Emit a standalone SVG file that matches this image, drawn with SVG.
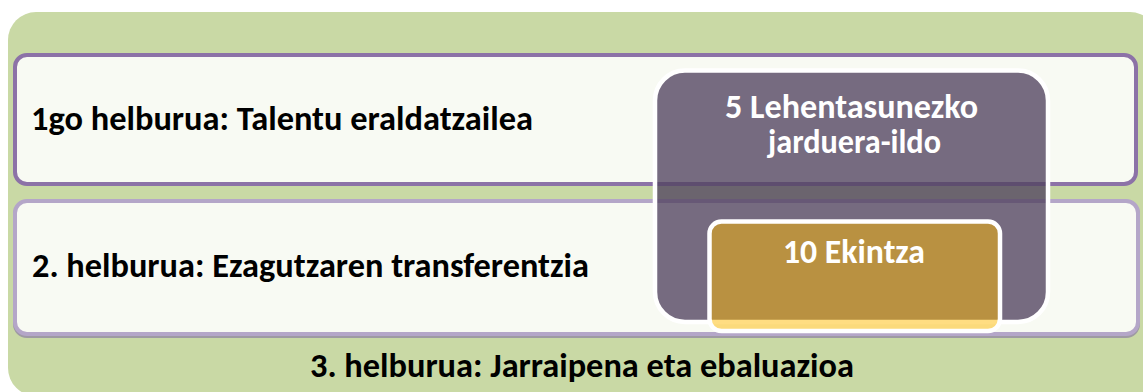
<svg xmlns="http://www.w3.org/2000/svg" width="1143" height="392" viewBox="0 0 1143 392">
  <style>
    .lbl { font-family: Carlito, Lato, "Liberation Sans", sans-serif; font-weight: bold; font-size: 34px; fill: #000; }
    .wlbl { font-family: Carlito, Lato, "Liberation Sans", sans-serif; font-weight: bold; font-size: 34px; fill: #fff; text-anchor: middle; }
  </style>
  <rect x="0" y="0" width="1143" height="392" fill="#ffffff"/>
  <g id="goal3">
    <rect x="8" y="12" width="1150" height="384" rx="28" fill="#C9D9A5"/>
    <text class="lbl" x="582" y="377" text-anchor="middle" textLength="544" lengthAdjust="spacingAndGlyphs">3. helburua: Jarraipena eta ebaluazioa</text>
  </g>
  <g id="goal1">
    <rect x="15" y="55" width="1121" height="129" rx="12" fill="#F8FAF3" stroke="#8C72A7" stroke-width="4"/>
    <text class="lbl" x="31" y="130" textLength="502" lengthAdjust="spacingAndGlyphs">1go helburua: Talentu eraldatzailea</text>
  </g>
  <g id="goal2">
    <rect x="15" y="203" width="1123" height="133" rx="12" fill="none" stroke="#9E9AA3" stroke-width="4"/>
    <rect x="15" y="201" width="1123" height="133" rx="12" fill="#F8FAF3" stroke="#B4A6C8" stroke-width="4"/>
    <text class="lbl" x="32" y="277" textLength="557" lengthAdjust="spacingAndGlyphs">2. helburua: Ezagutzaren transferentzia</text>
  </g>
  <g id="lines">
    <rect x="655" y="70.5" width="393" height="251.5" rx="30" fill="#51435F" fill-opacity="0.78" stroke="#ffffff" stroke-width="4.5"/>
    <text class="wlbl" x="851.5" y="118" textLength="253" lengthAdjust="spacingAndGlyphs">5 Lehentasunezko</text>
    <text class="wlbl" x="854.5" y="153" textLength="173" lengthAdjust="spacingAndGlyphs">jarduera-ildo</text>
  </g>
  <g id="actions">
    <rect x="709.5" y="221.5" width="290.5" height="109.5" rx="12" fill="#FFB900" fill-opacity="0.49" stroke="#ffffff" stroke-width="4.5"/>
    <text class="wlbl" x="854" y="263" textLength="142" lengthAdjust="spacingAndGlyphs">10 Ekintza</text>
  </g>
  <g id="connectors"></g>
</svg>
